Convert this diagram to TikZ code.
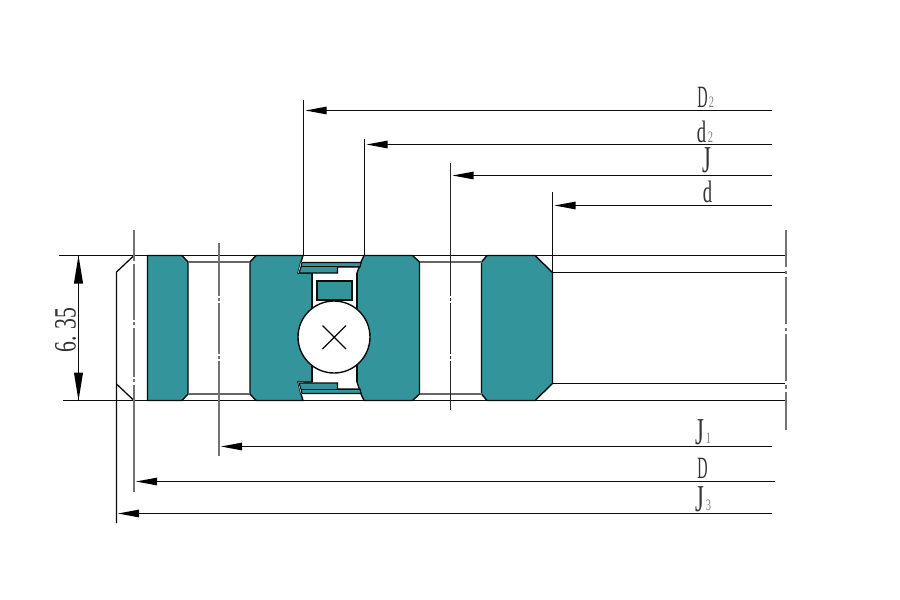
\documentclass[tikz,border=0pt]{standalone}
\usepackage{fontspec}
\usetikzlibrary{calc}
\setmainfont{Liberation Serif}
\definecolor{ringteal}{RGB}{51,148,155}
\definecolor{darkline}{RGB}{12,12,12}
\newcommand{\nar}[2]{\scalebox{#1}[1]{#2}}
\tikzset{
 base/.style={line width=1.4pt,draw=darkline},
 thin line/.style={line width=1.3pt,draw=darkline},
 ring/.style={fill=ringteal,draw=darkline,line width=1.4pt},
 gapline/.style={line width=1.6pt,draw=black!60},
 centre/.style={line width=1.5pt,draw=black!55},
 centredark/.style={line width=1.3pt,draw=black!85},
 nick/.style={line width=2.2pt,draw=white},
 dimhead/.style={fill=black,draw=none},
 lab/.style={inner sep=0pt,text=black!80,font=\fontsize{31}{31}\selectfont,anchor=base},
 labj/.style={inner sep=0pt,text=black!80,font=\fontsize{38}{38}\selectfont,anchor=base},
 sub/.style={inner sep=0pt,text=black!50,font=\fontsize{16}{16}\selectfont,anchor=base}
}
\begin{document}
\begin{tikzpicture}[x=1pt,y=-1pt]
\useasboundingbox[fill=white] (0,0) rectangle (900,600);
% coordinates for dimension lines
\coordinate (eD2) at (772,110.5);   \coordinate (aD2) at (305.5,110.5);
\coordinate (ed2) at (772,144.5); \coordinate (ad2) at (366.5,144.5);
\coordinate (eJ) at (772,175.5);    \coordinate (aJ) at (452.5,175.5);
\coordinate (ed) at (772,205.5);    \coordinate (ad) at (554.5,205.5);
\coordinate (eJ1) at (772,446.5);   \coordinate (aJ1) at (221,446.5);
\coordinate (eDD) at (775,481.5);   \coordinate (aDD) at (136,481.5);
\coordinate (eJ3) at (772,513.5);   \coordinate (aJ3) at (118,513.5);
% rings
\draw[ring] (147.5,255.5) -- (182,255.5) -- (188,262) -- (188,394) -- (182,400.5) -- (147.5,400.5) -- cycle;
\draw[ring] (256,255.5) -- (303,255.5) -- (301,262) -- (298,273) -- (312,273) -- (312,382) -- (298,382) -- (301,394) -- (303,400.5) -- (256,400.5) -- (250,394) -- (250,262) -- cycle;
\draw[ring] (364,255.5) -- (412.5,255.5) -- (419.5,262) -- (419.5,394) -- (412.5,400.5) -- (364,400.5) -- (361,394) -- (357,382) -- (357,273) -- (361,262) -- cycle;
\draw[ring] (487,255.5) -- (535,255.5) -- (552.5,272.5) -- (552.5,383.5) -- (535,400.5) -- (487,400.5) -- (481.5,394) -- (481.5,262) -- cycle;
% seals
\fill[white] (298,273) -- (301,262) -- (303.5,262) -- (303.5,273) -- cycle;
\fill[white] (298,382) -- (301,394) -- (303.5,394) -- (303.5,382) -- cycle;
\draw[ring,line width=1.1pt] (302,262.5) -- (361,262.5) -- (360,267) -- (337.5,267) -- (337.5,273) -- (299,273) -- (301,267) -- cycle;
\draw[line width=1.4pt,draw=darkline] (301,266.5) -- (360,266.5);
\draw[ring,line width=1.1pt] (302,393.5) -- (361,393.5) -- (360,389) -- (337.5,389) -- (337.5,383) -- (299,383) -- (301,389) -- cycle;
\draw[line width=1.4pt,draw=darkline] (301,389.5) -- (360,389.5);
% cage block
\draw[ring,line width=1.4pt] (317,281) rectangle (352,300);
\draw[thin line] (312,273) -- (312,382);
\draw[thin line] (357,273) -- (357,382);
% ball
\draw[fill=white,draw=darkline,line width=1.4pt] (334,337) circle[radius=36];
\draw[line width=1.1pt,draw=darkline] (322.5,325.5) -- (346,349);
\draw[line width=1.1pt,draw=darkline] (346,325.5) -- (322.5,349);
\fill[darkline] (334,337) circle[radius=1.2];
% gap lines
\draw[gapline] (188,262) -- (250,262);
\draw[gapline] (188,394) -- (250,394);
\draw[gapline] (419.5,262) -- (481.5,262);
\draw[gapline] (419.5,394) -- (481.5,394);
% main horizontals
\draw[base] (59,255.5) -- (786,255.5);
\draw[base] (63,400.5) -- (786,400.5);
\draw[base] (552.5,272.5) -- (786,272.5);
\draw[base] (552.5,383.5) -- (786,383.5);
% left chamfer profile
\draw[thin line] (134,255.5) -- (116.5,272) -- (116.5,523);
\draw[thin line] (116.5,384) -- (134,400.5);
% extension and centre lines
\draw[thin line] (303.5,100) -- (303.5,255);
\draw[thin line] (364.5,139) -- (364.5,255);
\draw[thin line] (552.5,192) -- (552.5,272);
\draw[centre] (134,229.5) -- (134,492);
\draw[nick] (134,261) -- (134,264);\draw[nick] (134,319.5) -- (134,322);\draw[nick] (134,325) -- (134,327.5);\draw[nick] (134,376.5) -- (134,379);\draw[nick] (134,382) -- (134,384.5);
\draw[centre] (219,243) -- (219,456);
\draw[nick] (219,295.5) -- (219,298);\draw[nick] (219,300.5) -- (219,303);\draw[nick] (219,353.5) -- (219,356);\draw[nick] (219,358.5) -- (219,361);
\draw[centredark] (450.5,163) -- (450.5,410);
\draw[nick] (450.5,295.5) -- (450.5,298);\draw[nick] (450.5,300.5) -- (450.5,303);\draw[nick] (450.5,353.5) -- (450.5,356);\draw[nick] (450.5,358.5) -- (450.5,361);
\draw[centre] (786,230) -- (786,430);
\draw[nick] (786,267) -- (786,270.5);\draw[nick] (786,274) -- (786,277);\draw[nick] (786,324) -- (786,327.5);\draw[nick] (786,331) -- (786,334);\draw[nick] (786,381) -- (786,385);\draw[nick] (786,388.5) -- (786,392);
% dimension lines and heads
\foreach \e/\a in {eD2/aD2,ed2/ad2,eJ/aJ,ed/ad,eJ1/aJ1,eDD/aDD,eJ3/aJ3}{
  \draw[thin line] (\e) -- ($(\a)+(10,0)$);
  \fill[dimhead] (\a) -- +(21,-3.9) -- +(21,3.9) -- cycle;
}
% vertical 6.35 dimension
\coordinate (v1) at (78.5,255.5); \coordinate (v2) at (78.5,400.5);
\draw[thin line] (v1) -- (v2);
\fill[dimhead] (v1) -- +(-4.6,28) -- +(4.6,28) -- cycle;
\fill[dimhead] (v2) -- +(-4.6,-28) -- +(4.6,-28) -- cycle;
% labels
\node[lab] (tD2) at (702.5,107) {\nar{0.46}{D}};
\node[sub] (sD2) at (711.5,107) {\nar{0.65}{2}};
\node[lab] (td2) at (701.5,142) {\nar{0.6}{d}};
\node[sub] (sd2) at (710.5,142) {\nar{0.65}{2}};
\node[labj] (tJ) at (707,172.5) {\nar{0.6}{J}};
\node[lab] (td) at (707.5,202.5) {\nar{0.6}{d}};
\node[labj] (tJ1) at (700,444) {\nar{0.6}{J}};
\node[sub] (sJ1) at (708.5,443) {\nar{0.65}{1}};
\node[lab] (tD) at (702.5,478) {\nar{0.46}{D}};
\node[labj] (tJ3) at (700,511) {\nar{0.6}{J}};
\node[sub] (sJ3) at (708.5,510) {\nar{0.65}{3}};
\node[lab,rotate=90] (t635) at (75.5,330) {\nar{0.7}{6. 35}};
\end{tikzpicture}
\end{document}
